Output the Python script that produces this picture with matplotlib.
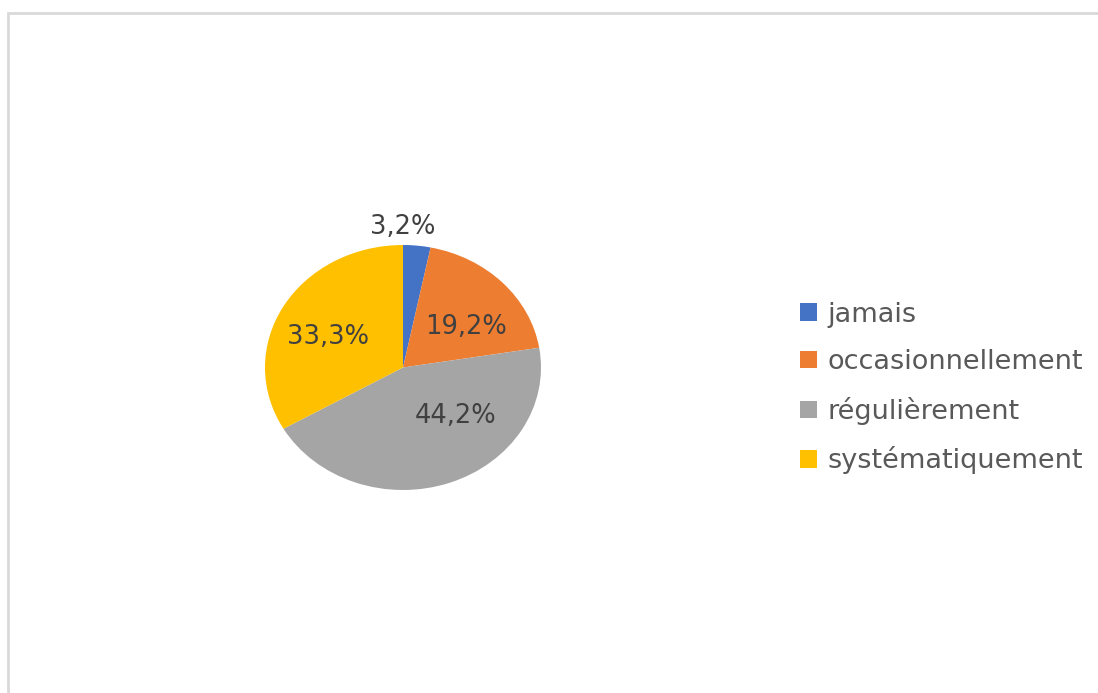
import matplotlib
matplotlib.use("Agg")
import matplotlib.pyplot as plt
from matplotlib.patches import Rectangle
import numpy as np

categories = ["jamais", "occasionnellement", "régulièrement", "systématiquement"]
values = [3.2, 19.2, 44.2, 33.3]
labels = ["3,2%", "19,2%", "44,2%", "33,3%"]
colors = ["#4472C4", "#ED7D31", "#A5A5A5", "#FFC000"]
# label positions (pie-normalised coordinates)
label_pos = [(0.0, 1.15), (0.46, 0.33), (0.38, -0.40), (-0.54, 0.245)]

plt.rcParams['font.family'] = ['DejaVu Sans']
W, H = 1098, 693
fig = plt.figure(figsize=(W / 100, H / 100), dpi=100)

# outer frame
fig.patches.append(Rectangle((8 / W, -0.01), 1.1, (H - 13) / H + 0.01, transform=fig.transFigure,
                             fill=False, edgecolor="#D9D9D9", linewidth=2))

ax = fig.add_axes([265 / W, (H - 490) / H, 276 / W, 245 / H])
wedges, _ = ax.pie(values, colors=colors, startangle=90, counterclock=False,
                   wedgeprops=dict(linewidth=0))
ax.set_aspect('auto')
ax.set_xlim(-1, 1)
ax.set_ylim(-1, 1)
for (x, y), lab in zip(label_pos, labels):
    ax.text(x, y, lab, ha='center', va='center', fontsize=18.5, color="#404040")

handles = [Rectangle((0, 0), 1, 1, facecolor=c, edgecolor='none') for c in colors]
leg = fig.legend(handles, categories, loc='center left', bbox_to_anchor=(776 / W, 1 - 388 / H),
                 frameon=False, fontsize=19.5, labelcolor="#595959", handlelength=0.6,
                 handleheight=0.6, handletextpad=0.4, labelspacing=0.8)

fig.savefig("out.png", dpi=100)
